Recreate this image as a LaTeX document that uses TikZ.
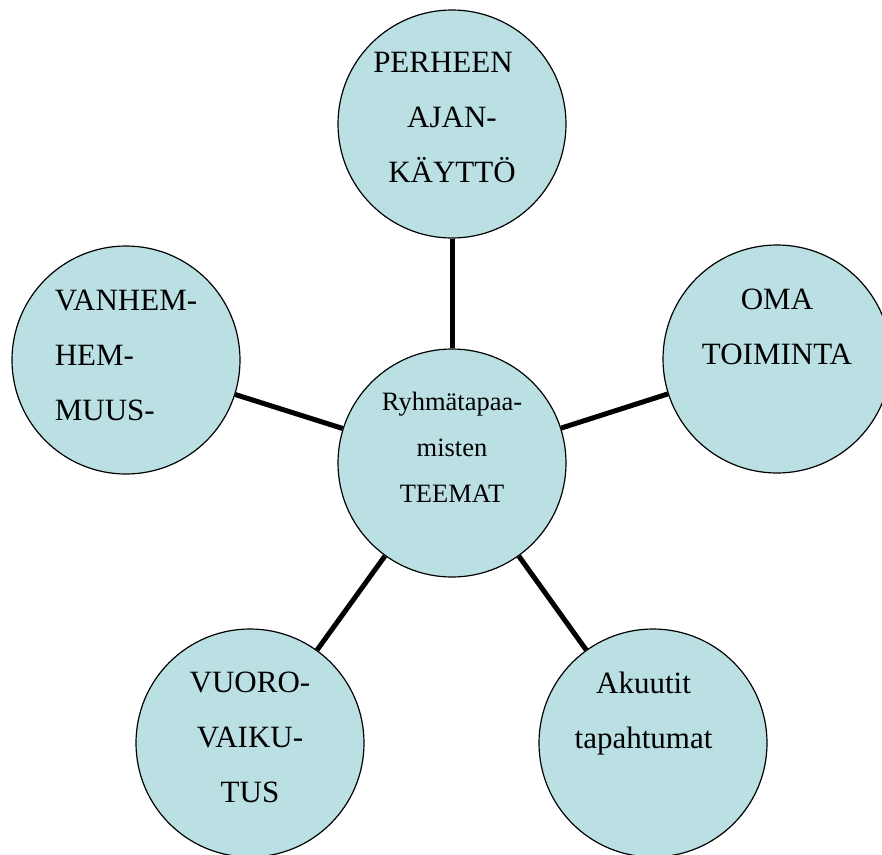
\documentclass[tikz,border=0pt]{standalone}
\usepackage{fontspec}
\setmainfont{Liberation Serif}
\usepackage{xcolor}
\usepackage{tikz}
\definecolor{themefill}{RGB}{187,224,228}

\begin{document}
\begin{tikzpicture}[x=1pt,y=-1pt,
	theme/.style={circle,draw,line width=1.2pt,fill=themefill,minimum size=228pt,inner sep=1pt,align=center,font=\fontsize{31}{55}\selectfont},
	spoke/.style={line width=5pt}]

		\clip (0,0) rectangle (882,854);

		\node[theme,font=\fontsize{26.5}{46}\selectfont,text depth=32pt] (teemat) at (452,463) {Ryhmätapaa-\\misten\\TEEMAT};
		\node[theme,text depth=13pt] (aika) at (452,124) {PERHEEN\hspace*{18pt}\\AJAN-\\KÄYTTÖ};
		\node[theme,text depth=64pt] (oma) at (777,359) {OMA\\TOIMINTA};
		\node[theme,align=left,text depth=10pt] (vanh) at (126,360) {VANHEM-\\HEM-\\MUUS-};
		\node[theme,text depth=12pt] (vuoro) at (250,743) {VUORO-\\VAIKU-\\TUS};
		\node[theme,text depth=66pt] (akuut) at (653,743) {Akuutit\hspace*{19pt}\\tapahtumat\hspace*{19pt}};

		\draw[spoke] (teemat) -- (aika);
		\draw[spoke] (teemat) -- (oma);
		\draw[spoke] (teemat) -- (vanh);
		\draw[spoke] (teemat) -- (vuoro);
		\draw[spoke] (teemat) -- (akuut);

	\end{tikzpicture}
\end{document}
